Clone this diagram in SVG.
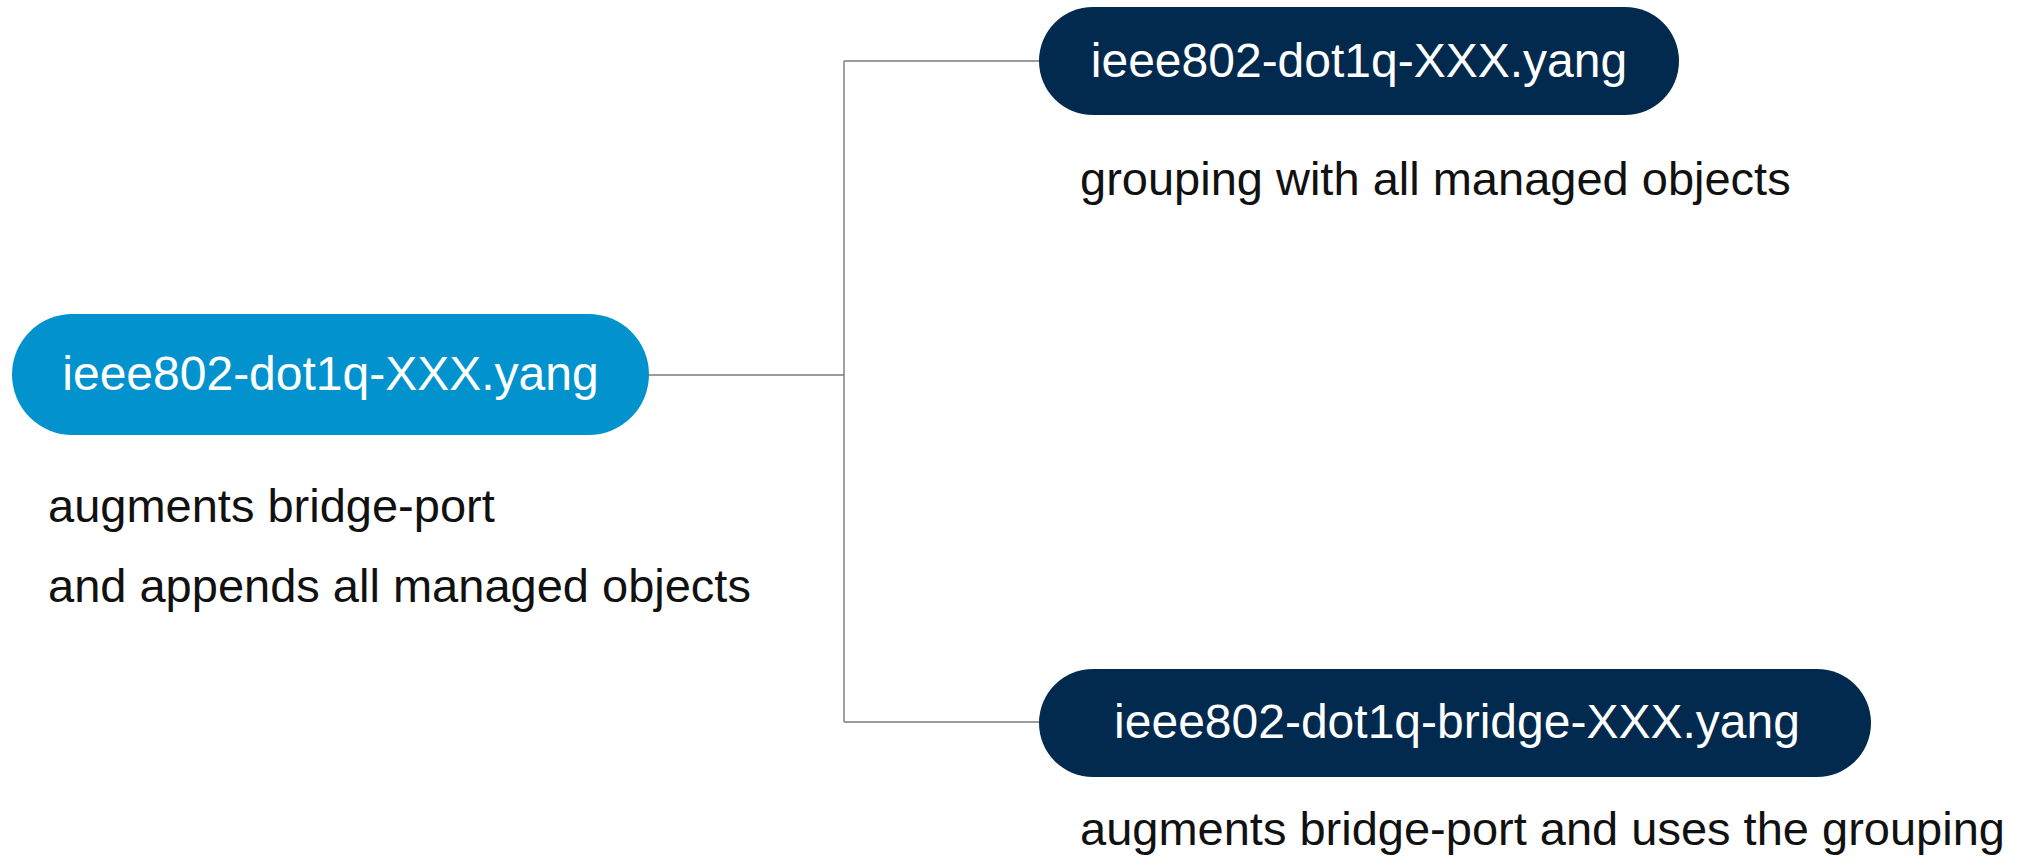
<svg xmlns="http://www.w3.org/2000/svg" width="2021" height="860" viewBox="0 0 2021 860">
  <style>
    .lbl { font-family: "Liberation Sans", Arial, sans-serif; font-size: 48px; fill: #ffffff; text-anchor: middle; }
    .note { font-family: "Liberation Sans", Arial, sans-serif; font-size: 47px; fill: #111111; }
    .conn { fill: none; stroke: #7a7a7a; stroke-width: 1.4; }
    .light { fill: #0293cf; }
    .dark { fill: #022a4e; }
  </style>
  <rect width="2021" height="860" fill="#ffffff"/>
  <g id="connectors">
    <path class="conn" d="M649 375 H844"/>
    <path class="conn" d="M844 61 V722"/>
    <path class="conn" d="M844 61 H1039"/>
    <path class="conn" d="M844 722 H1039"/>
  </g>
  <g id="node-main">
    <rect class="light" x="12" y="314" width="637" height="121" rx="60.5" ry="60.5"/>
    <text class="lbl" x="330.5" y="390">ieee802-dot1q-XXX.yang</text>
    <text class="note" x="48" y="522">augments bridge-port</text>
    <text class="note" x="48" y="602">and appends all managed objects</text>
  </g>
  <g id="node-grouping">
    <rect class="dark" x="1039" y="7" width="640" height="108" rx="54" ry="54"/>
    <text class="lbl" x="1359" y="77">ieee802-dot1q-XXX.yang</text>
    <text class="note" x="1080" y="195">grouping with all managed objects</text>
  </g>
  <g id="node-bridge">
    <rect class="dark" x="1039" y="669" width="832" height="108" rx="54" ry="54"/>
    <text class="lbl" x="1457" y="738">ieee802-dot1q-bridge-XXX.yang</text>
    <text class="note" x="1080" y="845">augments bridge-port and uses the grouping</text>
  </g>
</svg>
